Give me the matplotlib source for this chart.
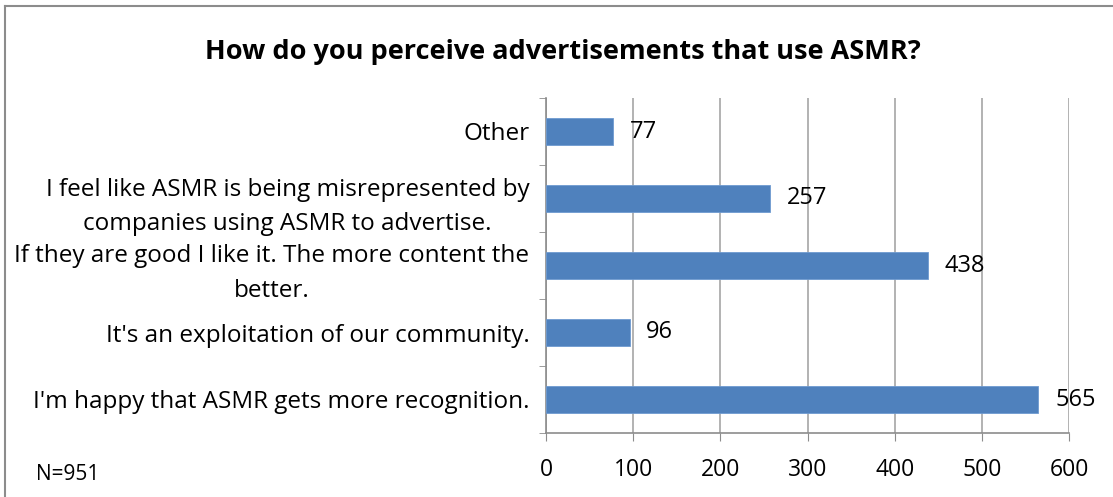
import matplotlib
matplotlib.use("Agg")
import matplotlib.pyplot as plt
from matplotlib.lines import Line2D

# Survey responses, top to bottom as listed on the chart
answers = [
    "Other",
    "I feel like ASMR is being misrepresented by\ncompanies using ASMR to advertise.",
    "If they are good I like it. The more content the\nbetter.",
    "It's an exploitation of our community.",
    "I'm happy that ASMR gets more recognition.",
]
counts = [77, 257, 438, 96, 565]
x_ticks = [0, 100, 200, 300, 400, 500, 600]

plt.rcParams["font.family"] = ["Open Sans", "DejaVu Sans"]

fig = plt.figure(figsize=(11.13, 4.97), dpi=100)
ax = fig.add_axes([546 / 1113, 64 / 497, 523 / 1113, 335 / 497])

pos = list(range(len(answers)))[::-1]
ax.barh(pos, counts, height=0.4, color="#4F81BD", edgecolor="#6F9BD0",
        linewidth=0.6, zorder=3)

for y, v in zip(pos, counts):
    ax.annotate(str(v), (v, y), xytext=(12, 0), textcoords="offset points",
                va="center", ha="left", fontsize=17, zorder=4)

ax.set_xlim(0, 600)
ax.set_ylim(-0.5, len(answers) - 0.5)
ax.set_xticks(x_ticks)
ax.set_xticklabels([str(t) for t in x_ticks], fontsize=16.5)
ax.tick_params(axis="x", length=6, color="#8C8C8C", pad=12)
ax.grid(axis="x", color="#A6A6A6", linewidth=1.2, zorder=0)

# category labels centred on each bar, tick marks between categories
ax.set_yticks(pos)
ax.set_yticklabels(answers, fontsize=17.5, multialignment="center",
                   linespacing=1.6)
ax.tick_params(axis="y", length=0, pad=12)
ax.set_yticks([i - 0.5 for i in range(len(answers) + 1)], minor=True)
ax.tick_params(axis="y", which="minor", length=5, color="#8C8C8C")

for side in ["top", "right"]:
    ax.spines[side].set_visible(False)
for side in ["left", "bottom"]:
    ax.spines[side].set_color("#8C8C8C")
    ax.spines[side].set_linewidth(1.2)

fig.text(563 / 1113, 1 - 52 / 497, "How do you perceive advertisements that use ASMR?",
         ha="center", va="center", fontsize=19.5, fontweight="bold")
fig.text(36 / 1113, 1 - 475 / 497, "N=951", ha="left", va="center", fontsize=15)

# chart frame
fig.add_artist(Line2D([5 / 1113, 1], [1 - 6 / 497, 1 - 6 / 497], color="#8C8C8C", lw=1.5))
fig.add_artist(Line2D([5 / 1113, 5 / 1113], [0, 1 - 6 / 497], color="#8C8C8C", lw=1.5))

fig.savefig("out.png", dpi=100)
